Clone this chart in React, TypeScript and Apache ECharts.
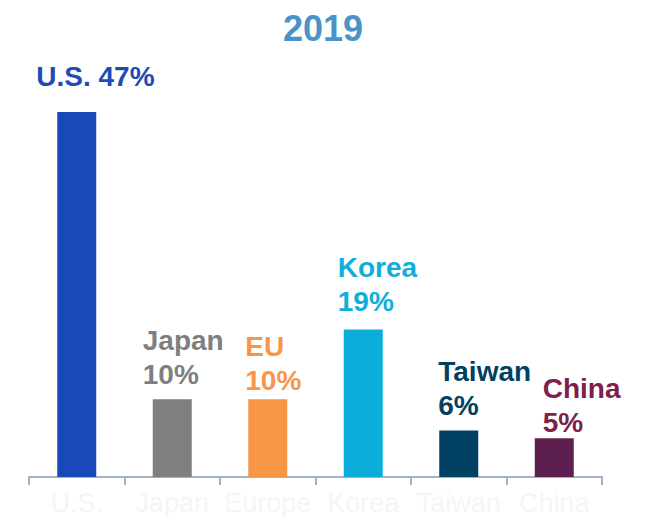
import React, { useEffect, useRef } from "react";
import * as echarts from "echarts";

const categories = ["U.S.", "Japan", "Europe", "Korea", "Taiwan", "China"];
const labelNames = ["U.S.", "Japan", "EU", "Korea", "Taiwan", "China"];
const values = [47, 10, 10, 19, 6, 5];
const barColors = ["#1848B9", "#7F7F7F", "#F79646", "#0BAEDB", "#004163", "#5C1F4F"];
const labelColors = ["#1E4BB7", "#7F7F7F", "#F79646", "#12AEDB", "#004163", "#7E2049"];
const labelShift = [
  [-21, -18],
  [-10, -8],
  [-3, -2],
  [-6, -11],
  [-1, -8],
  [8, 1],
];

export default function App() {
  const ref = useRef<HTMLDivElement>(null);
  useEffect(() => {
    if (!ref.current) return;
    const chart = echarts.init(ref.current, undefined, { renderer: "svg" });
    chart.setOption({
      animation: false,
      backgroundColor: "#ffffff",
      title: {
        text: "2019",
        left: "center",
        top: 5,
        textStyle: {
          color: "#4A93C6",
          fontSize: 36,
          fontWeight: "bold",
          fontFamily: "Liberation Sans, Arial, sans-serif",
        },
      },
      grid: { left: 29, right: 44, top: 11, bottom: 43 },
      xAxis: {
        type: "category",
        data: categories,
        axisLine: { lineStyle: { color: "#A3B2C8", width: 2 } },
        axisTick: { show: true, interval: 0, length: 8, lineStyle: { color: "#A3B2C8", width: 2 } },
        axisLabel: {
          interval: 0,
          color: "#F5F5F5",
          fontSize: 27,
          margin: 12,
          fontFamily: "Liberation Sans, Arial, sans-serif",
        },
      },
      yAxis: { type: "value", min: 0, max: 60, show: false },
      series: [
        {
          type: "bar",
          barWidth: 39,
          data: values.map((v, i) => ({
            value: v,
            itemStyle: { color: barColors[i] },
            label: {
              show: true,
              position: labelShift[i],
              align: "left",
              verticalAlign: "bottom",
              color: labelColors[i],
              formatter: i === 0 ? `${labelNames[i]} ${v}%` : `${labelNames[i]}\n${v}%`,
            },
          })),
          label: {
            fontSize: 28,
            fontWeight: "bold",
            lineHeight: 34,
            fontFamily: "Liberation Sans, Arial, sans-serif",
          },
        },
      ],
    });
    return () => chart.dispose();
  }, []);
  return (
    <div
      ref={ref}
      style={{ position: "fixed", left: 0, top: 0, width: 646, height: 520 }}
    />
  );
}
